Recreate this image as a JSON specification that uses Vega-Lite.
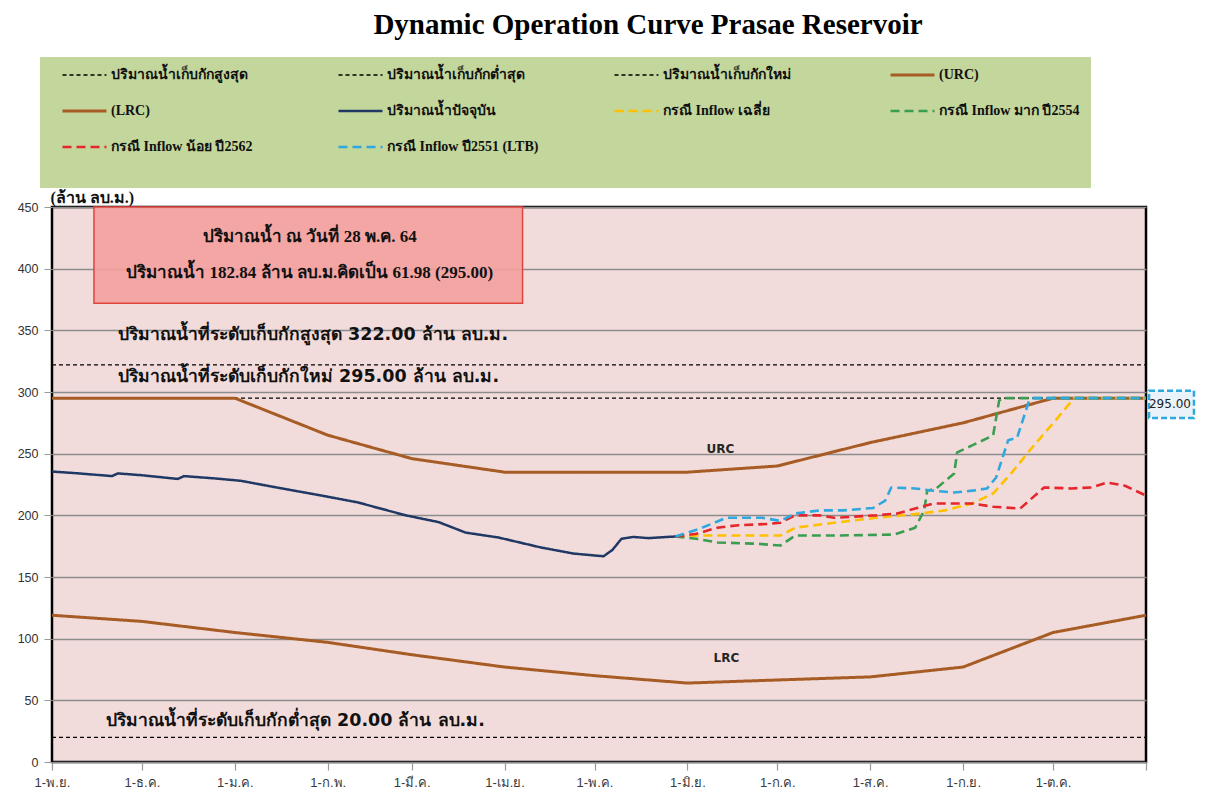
{
  "$schema": "https://vega.github.io/schema/vega-lite/v6.json",
  "width": 1094,
  "height": 555,
  "autosize": {"type": "none"},
  "padding": {"left": 52, "top": 207, "right": 71, "bottom": 34},
  "background": "white",
  "title": {
    "text": "Dynamic Operation Curve Prasae Reservoir",
    "font": "Liberation Serif",
    "fontSize": 29,
    "fontWeight": "bold",
    "color": "#000000",
    "anchor": "middle",
    "frame": "group",
    "dx": 49,
    "offset": 17
  },
  "config": {
    "view": {"fill": "#f2dcdb", "stroke": "#000000", "strokeWidth": 2.5}
  },
  "datasets": {
    "lines": [
      {"series": "ปริมาณน้ำเก็บกักสูงสุด", "date": "2020-11-01", "value": 322},
      {"series": "ปริมาณน้ำเก็บกักสูงสุด", "date": "2021-11-01", "value": 322},
      {"series": "ปริมาณน้ำเก็บกักต่ำสุด", "date": "2020-11-01", "value": 20},
      {"series": "ปริมาณน้ำเก็บกักต่ำสุด", "date": "2021-11-01", "value": 20},
      {"series": "ปริมาณน้ำเก็บกักใหม่", "date": "2020-11-01", "value": 295},
      {"series": "ปริมาณน้ำเก็บกักใหม่", "date": "2021-11-01", "value": 295},
      {"series": "(URC)", "date": "2020-11-01", "value": 295},
      {"series": "(URC)", "date": "2021-01-01", "value": 295},
      {"series": "(URC)", "date": "2021-02-01", "value": 265},
      {"series": "(URC)", "date": "2021-03-01", "value": 246},
      {"series": "(URC)", "date": "2021-04-01", "value": 235},
      {"series": "(URC)", "date": "2021-06-01", "value": 235},
      {"series": "(URC)", "date": "2021-07-01", "value": 240},
      {"series": "(URC)", "date": "2021-08-01", "value": 259},
      {"series": "(URC)", "date": "2021-09-01", "value": 275},
      {"series": "(URC)", "date": "2021-10-01", "value": 295},
      {"series": "(URC)", "date": "2021-11-01", "value": 295},
      {"series": "(LRC)", "date": "2020-11-01", "value": 119},
      {"series": "(LRC)", "date": "2020-12-01", "value": 114},
      {"series": "(LRC)", "date": "2021-01-01", "value": 105},
      {"series": "(LRC)", "date": "2021-02-01", "value": 97},
      {"series": "(LRC)", "date": "2021-03-01", "value": 87},
      {"series": "(LRC)", "date": "2021-04-01", "value": 77},
      {"series": "(LRC)", "date": "2021-05-01", "value": 70},
      {"series": "(LRC)", "date": "2021-06-01", "value": 64},
      {"series": "(LRC)", "date": "2021-07-01", "value": 66.5},
      {"series": "(LRC)", "date": "2021-08-01", "value": 69},
      {"series": "(LRC)", "date": "2021-09-01", "value": 77},
      {"series": "(LRC)", "date": "2021-10-01", "value": 105},
      {"series": "(LRC)", "date": "2021-11-01", "value": 119},
      {"series": "กรณี Inflow เฉลี่ย", "date": "2021-05-28", "value": 182.84},
      {"series": "กรณี Inflow เฉลี่ย", "date": "2021-06-04", "value": 183.6},
      {"series": "กรณี Inflow เฉลี่ย", "date": "2021-06-18", "value": 183.6},
      {"series": "กรณี Inflow เฉลี่ย", "date": "2021-07-02", "value": 183.6},
      {"series": "กรณี Inflow เฉลี่ย", "date": "2021-07-07", "value": 190},
      {"series": "กรณี Inflow เฉลี่ย", "date": "2021-07-20", "value": 194},
      {"series": "กรณี Inflow เฉลี่ย", "date": "2021-08-03", "value": 198},
      {"series": "กรณี Inflow เฉลี่ย", "date": "2021-08-16", "value": 201},
      {"series": "กรณี Inflow เฉลี่ย", "date": "2021-08-26", "value": 204},
      {"series": "กรณี Inflow เฉลี่ย", "date": "2021-09-04", "value": 209.6},
      {"series": "กรณี Inflow เฉลี่ย", "date": "2021-09-11", "value": 217.7},
      {"series": "กรณี Inflow เฉลี่ย", "date": "2021-09-17", "value": 234},
      {"series": "กรณี Inflow เฉลี่ย", "date": "2021-09-24", "value": 255},
      {"series": "กรณี Inflow เฉลี่ย", "date": "2021-10-01", "value": 274.6},
      {"series": "กรณี Inflow เฉลี่ย", "date": "2021-10-08", "value": 295},
      {"series": "กรณี Inflow เฉลี่ย", "date": "2021-11-01", "value": 295},
      {"series": "กรณี Inflow มาก ปี2554", "date": "2021-05-28", "value": 182.84},
      {"series": "กรณี Inflow มาก ปี2554", "date": "2021-06-04", "value": 181},
      {"series": "กรณี Inflow มาก ปี2554", "date": "2021-06-11", "value": 178},
      {"series": "กรณี Inflow มาก ปี2554", "date": "2021-06-24", "value": 177},
      {"series": "กรณี Inflow มาก ปี2554", "date": "2021-07-02", "value": 175.5},
      {"series": "กรณี Inflow มาก ปี2554", "date": "2021-07-07", "value": 183.6},
      {"series": "กรณี Inflow มาก ปี2554", "date": "2021-07-20", "value": 183.6},
      {"series": "กรณี Inflow มาก ปี2554", "date": "2021-08-09", "value": 184.4},
      {"series": "กรณี Inflow มาก ปี2554", "date": "2021-08-16", "value": 190},
      {"series": "กรณี Inflow มาก ปี2554", "date": "2021-08-19", "value": 204},
      {"series": "กรณี Inflow มาก ปี2554", "date": "2021-08-20", "value": 220},
      {"series": "กรณี Inflow มาก ปี2554", "date": "2021-08-23", "value": 221.8},
      {"series": "กรณี Inflow มาก ปี2554", "date": "2021-08-29", "value": 234},
      {"series": "กรณี Inflow มาก ปี2554", "date": "2021-08-30", "value": 251},
      {"series": "กรณี Inflow มาก ปี2554", "date": "2021-09-04", "value": 256.7},
      {"series": "กรณี Inflow มาก ปี2554", "date": "2021-09-11", "value": 264.8},
      {"series": "กรณี Inflow มาก ปี2554", "date": "2021-09-13", "value": 293},
      {"series": "กรณี Inflow มาก ปี2554", "date": "2021-09-14", "value": 295},
      {"series": "กรณี Inflow มาก ปี2554", "date": "2021-11-01", "value": 295},
      {"series": "กรณี Inflow น้อย ปี2562", "date": "2021-05-28", "value": 182.84},
      {"series": "กรณี Inflow น้อย ปี2562", "date": "2021-06-04", "value": 185},
      {"series": "กรณี Inflow น้อย ปี2562", "date": "2021-06-11", "value": 190},
      {"series": "กรณี Inflow น้อย ปี2562", "date": "2021-06-18", "value": 192},
      {"series": "กรณี Inflow น้อย ปี2562", "date": "2021-06-28", "value": 193},
      {"series": "กรณี Inflow น้อย ปี2562", "date": "2021-07-02", "value": 194},
      {"series": "กรณี Inflow น้อย ปี2562", "date": "2021-07-07", "value": 200},
      {"series": "กรณี Inflow น้อย ปี2562", "date": "2021-07-15", "value": 200},
      {"series": "กรณี Inflow น้อย ปี2562", "date": "2021-07-20", "value": 198},
      {"series": "กรณี Inflow น้อย ปี2562", "date": "2021-08-03", "value": 200},
      {"series": "กรณี Inflow น้อย ปี2562", "date": "2021-08-10", "value": 201.5},
      {"series": "กรณี Inflow น้อย ปี2562", "date": "2021-08-16", "value": 205.5},
      {"series": "กรณี Inflow น้อย ปี2562", "date": "2021-08-22", "value": 209.6},
      {"series": "กรณี Inflow น้อย ปี2562", "date": "2021-09-04", "value": 209.6},
      {"series": "กรณี Inflow น้อย ปี2562", "date": "2021-09-11", "value": 207},
      {"series": "กรณี Inflow น้อย ปี2562", "date": "2021-09-20", "value": 205.5},
      {"series": "กรณี Inflow น้อย ปี2562", "date": "2021-09-28", "value": 222.6},
      {"series": "กรณี Inflow น้อย ปี2562", "date": "2021-10-07", "value": 221.8},
      {"series": "กรณี Inflow น้อย ปี2562", "date": "2021-10-14", "value": 222.6},
      {"series": "กรณี Inflow น้อย ปี2562", "date": "2021-10-19", "value": 226.6},
      {"series": "กรณี Inflow น้อย ปี2562", "date": "2021-10-25", "value": 224},
      {"series": "กรณี Inflow น้อย ปี2562", "date": "2021-11-01", "value": 216},
      {"series": "กรณี Inflow ปี2551 (LTB)", "date": "2021-05-28", "value": 182.84},
      {"series": "กรณี Inflow ปี2551 (LTB)", "date": "2021-06-05", "value": 189},
      {"series": "กรณี Inflow ปี2551 (LTB)", "date": "2021-06-14", "value": 198},
      {"series": "กรณี Inflow ปี2551 (LTB)", "date": "2021-06-26", "value": 198},
      {"series": "กรณี Inflow ปี2551 (LTB)", "date": "2021-07-02", "value": 195.5},
      {"series": "กรณี Inflow ปี2551 (LTB)", "date": "2021-07-07", "value": 201.5},
      {"series": "กรณี Inflow ปี2551 (LTB)", "date": "2021-07-15", "value": 204},
      {"series": "กรณี Inflow ปี2551 (LTB)", "date": "2021-07-23", "value": 204},
      {"series": "กรณี Inflow ปี2551 (LTB)", "date": "2021-08-02", "value": 206},
      {"series": "กรณี Inflow ปี2551 (LTB)", "date": "2021-08-06", "value": 212},
      {"series": "กรณี Inflow ปี2551 (LTB)", "date": "2021-08-08", "value": 222.6},
      {"series": "กรณี Inflow ปี2551 (LTB)", "date": "2021-08-16", "value": 221.8},
      {"series": "กรณี Inflow ปี2551 (LTB)", "date": "2021-08-22", "value": 220},
      {"series": "กรณี Inflow ปี2551 (LTB)", "date": "2021-08-29", "value": 218.5},
      {"series": "กรณี Inflow ปี2551 (LTB)", "date": "2021-09-04", "value": 220},
      {"series": "กรณี Inflow ปี2551 (LTB)", "date": "2021-09-09", "value": 221.8},
      {"series": "กรณี Inflow ปี2551 (LTB)", "date": "2021-09-12", "value": 230.7},
      {"series": "กรณี Inflow ปี2551 (LTB)", "date": "2021-09-16", "value": 260.8},
      {"series": "กรณี Inflow ปี2551 (LTB)", "date": "2021-09-19", "value": 263},
      {"series": "กรณี Inflow ปี2551 (LTB)", "date": "2021-09-23", "value": 293},
      {"series": "กรณี Inflow ปี2551 (LTB)", "date": "2021-09-24", "value": 295},
      {"series": "กรณี Inflow ปี2551 (LTB)", "date": "2021-11-01", "value": 295},
      {"series": "ปริมาณน้ำปัจจุบัน", "date": "2020-11-01", "value": 235.5},
      {"series": "ปริมาณน้ำปัจจุบัน", "date": "2020-11-10", "value": 234},
      {"series": "ปริมาณน้ำปัจจุบัน", "date": "2020-11-21", "value": 231.8},
      {"series": "ปริมาณน้ำปัจจุบัน", "date": "2020-11-23", "value": 234},
      {"series": "ปริมาณน้ำปัจจุบัน", "date": "2020-12-01", "value": 232.5},
      {"series": "ปริมาณน้ำปัจจุบัน", "date": "2020-12-13", "value": 229.5},
      {"series": "ปริมาณน้ำปัจจุบัน", "date": "2020-12-15", "value": 231.8},
      {"series": "ปริมาณน้ำปัจจุบัน", "date": "2020-12-25", "value": 230},
      {"series": "ปริมาณน้ำปัจจุบัน", "date": "2021-01-03", "value": 228},
      {"series": "ปริมาณน้ำปัจจุบัน", "date": "2021-01-14", "value": 223},
      {"series": "ปริมาณน้ำปัจจุบัน", "date": "2021-01-30", "value": 216},
      {"series": "ปริมาณน้ำปัจจุบัน", "date": "2021-02-11", "value": 210.5},
      {"series": "ปริมาณน้ำปัจจุบัน", "date": "2021-02-27", "value": 200},
      {"series": "ปริมาณน้ำปัจจุบัน", "date": "2021-03-10", "value": 194.5},
      {"series": "ปริมาณน้ำปัจจุบัน", "date": "2021-03-19", "value": 186},
      {"series": "ปริมาณน้ำปัจจุบัน", "date": "2021-03-30", "value": 182},
      {"series": "ปริมาณน้ำปัจจุบัน", "date": "2021-04-13", "value": 174},
      {"series": "ปริมาณน้ำปัจจุบัน", "date": "2021-04-24", "value": 169},
      {"series": "ปริมาณน้ำปัจจุบัน", "date": "2021-05-04", "value": 166.8},
      {"series": "ปริมาณน้ำปัจจุบัน", "date": "2021-05-07", "value": 172},
      {"series": "ปริมาณน้ำปัจจุบัน", "date": "2021-05-10", "value": 181},
      {"series": "ปริมาณน้ำปัจจุบัน", "date": "2021-05-14", "value": 182.5},
      {"series": "ปริมาณน้ำปัจจุบัน", "date": "2021-05-19", "value": 181.5},
      {"series": "ปริมาณน้ำปัจจุบัน", "date": "2021-05-24", "value": 182.3},
      {"series": "ปริมาณน้ำปัจจุบัน", "date": "2021-05-28", "value": 182.84}
    ],
    "boxes": [
      {"kind": "info", "date": "2020-11-15", "date2": "2021-04-07", "value": 372, "value2": 450},
      {"kind": "tag", "date": "2021-11-02", "date2": "2021-11-17", "value": 279, "value2": 301}
    ],
    "boxtext": [
      {"date": "2021-01-26", "value": 425.5, "label": "ปริมาณน้ำ ณ วันที่ 28 พ.ค. 64"},
      {"date": "2021-01-26", "value": 396.5, "label": "ปริมาณน้ำ 182.84 ล้าน ลบ.ม.คิดเป็น 61.98 (295.00)"}
    ],
    "leveltext": [
      {"date": "2020-11-23", "value": 346, "label": "ปริมาณน้ำที่ระดับเก็บกักสูงสุด 322.00 ล้าน ลบ.ม."},
      {"date": "2020-11-23", "value": 312, "label": "ปริมาณน้ำที่ระดับเก็บกักใหม่ 295.00  ล้าน ลบ.ม."},
      {"date": "2020-11-19", "value": 33, "label": "ปริมาณน้ำที่ระดับเก็บกักต่ำสุด 20.00 ล้าน ลบ.ม."}
    ],
    "curvetext": [
      {"date": "2021-06-12", "value": 254, "label": "URC"},
      {"date": "2021-06-14", "value": 84, "label": "LRC"}
    ],
    "tagtext": [
      {"date": "2021-11-09", "value": 290, "label": "295.00"}
    ]
  },
  "layer": [
    {
      "data": {"name": "boxes"},
      "transform": [{"filter": "datum.kind == 'info'"}],
      "mark": {"type": "rect", "fill": "#f4a09d", "fillOpacity": 0.9, "stroke": "#e0453d", "strokeWidth": 1.5},
      "encoding": {
        "x": {"field": "date", "type": "temporal"},
        "x2": {"field": "date2"},
        "y": {"field": "value", "type": "quantitative"},
        "y2": {"field": "value2"}
      }
    },
    {
      "data": {"name": "lines"},
      "mark": {"type": "line", "strokeCap": "butt", "strokeJoin": "round"},
      "encoding": {
        "x": {
          "field": "date",
          "type": "temporal",
          "scale": {
            "type": "utc",
            "domain": [
              {"year": 2020, "month": 11, "date": 1, "utc": true},
              {"year": 2021, "month": 11, "date": 1, "utc": true}
            ]
          },
          "axis": {
            "title": null,
            "domain": false,
            "grid": false,
            "values": [
              {"year": 2020, "month": 11, "date": 1, "utc": true},
              {"year": 2020, "month": 12, "date": 1, "utc": true},
              {"year": 2021, "month": 1, "date": 1, "utc": true},
              {"year": 2021, "month": 2, "date": 1, "utc": true},
              {"year": 2021, "month": 3, "date": 1, "utc": true},
              {"year": 2021, "month": 4, "date": 1, "utc": true},
              {"year": 2021, "month": 5, "date": 1, "utc": true},
              {"year": 2021, "month": 6, "date": 1, "utc": true},
              {"year": 2021, "month": 7, "date": 1, "utc": true},
              {"year": 2021, "month": 8, "date": 1, "utc": true},
              {"year": 2021, "month": 9, "date": 1, "utc": true},
              {"year": 2021, "month": 10, "date": 1, "utc": true},
              {"year": 2021, "month": 11, "date": 1, "utc": true}
            ],
            "labelExpr": "(utcyear(datum.value) == 2021 && utcmonth(datum.value) == 10) ? '' : '1-' + ['ม.ค.','ก.พ.','มี.ค.','เม.ย.','พ.ค.','มิ.ย.','ก.ค.','ส.ค.','ก.ย.','ต.ค.','พ.ย.','ธ.ค.'][utcmonth(datum.value)]",
            "labelFlush": false,
            "labelOverlap": false,
            "labelFont": "Liberation Sans",
            "labelFontSize": 13,
            "labelColor": "#3a3a3a",
            "labelPadding": 6,
            "ticks": true,
            "tickSize": 8,
            "tickColor": "#999999",
            "tickWidth": 1.2
          }
        },
        "y": {
          "field": "value",
          "type": "quantitative",
          "scale": {"domain": [0, 450], "nice": false, "zero": true},
          "axis": {
            "values": [0, 50, 100, 150, 200, 250, 300, 350, 400, 450],
            "domain": false,
            "grid": true,
            "gridColor": "#8c8c8c",
            "gridWidth": 1.4,
            "ticks": true,
            "tickSize": 8,
            "tickColor": "#999999",
            "labelFont": "Liberation Sans",
            "labelFontSize": 12.5,
            "labelColor": "#333333",
            "labelPadding": 6,
            "title": "(ล้าน ลบ.ม.)",
            "titleAngle": 0,
            "titleAlign": "left",
            "titleBaseline": "middle",
            "titleX": -2,
            "titleY": -10,
            "titleFont": "Liberation Serif",
            "titleFontSize": 16,
            "titleFontWeight": "bold",
            "titleColor": "#111111"
          }
        },
        "color": {
          "field": "series",
          "type": "nominal",
          "scale": {
            "domain": ["ปริมาณน้ำเก็บกักสูงสุด", "ปริมาณน้ำเก็บกักต่ำสุด", "ปริมาณน้ำเก็บกักใหม่", "(URC)", "(LRC)", "ปริมาณน้ำปัจจุบัน", "กรณี Inflow เฉลี่ย", "กรณี Inflow มาก ปี2554", "กรณี Inflow น้อย ปี2562", "กรณี Inflow ปี2551 (LTB)"],
            "range": ["#000000", "#000000", "#000000", "#a65c24", "#a65c24", "#203864", "#ffc000", "#3a9e50", "#e5262b", "#2fa8df"]
          },
          "legend": {
            "orient": "none",
            "legendX": -12,
            "legendY": -150,
            "direction": "horizontal",
            "columns": 4,
            "gridAlign": "all",
            "columnPadding": 63,
            "rowPadding": 20,
            "padding": 10,
            "fillColor": "#c3d69b",
            "strokeColor": "#c3d69b",
            "title": " ",
            "titleOrient": "bottom",
            "titleFontSize": 10,
            "titlePadding": 12,
            "symbolType": "stroke",
            "symbolSize": 1936,
            "symbolOffset": 11,
            "clipHeight": 16,
            "labelFont": "Liberation Serif",
            "labelFontSize": 14,
            "labelFontWeight": "bold",
            "labelColor": "#111111",
            "labelOffset": 3,
            "labelLimit": 320
          }
        },
        "strokeDash": {
          "field": "series",
          "type": "nominal",
          "scale": {
            "domain": ["ปริมาณน้ำเก็บกักสูงสุด", "ปริมาณน้ำเก็บกักต่ำสุด", "ปริมาณน้ำเก็บกักใหม่", "(URC)", "(LRC)", "ปริมาณน้ำปัจจุบัน", "กรณี Inflow เฉลี่ย", "กรณี Inflow มาก ปี2554", "กรณี Inflow น้อย ปี2562", "กรณี Inflow ปี2551 (LTB)"],
            "range": [[4, 3], [4, 3], [4, 3], [1, 0], [1, 0], [1, 0], [9, 5], [9, 5], [9, 5], [9, 5]]
          }
        },
        "strokeWidth": {
          "field": "series",
          "type": "nominal",
          "scale": {
            "type": "ordinal",
            "domain": ["ปริมาณน้ำเก็บกักสูงสุด", "ปริมาณน้ำเก็บกักต่ำสุด", "ปริมาณน้ำเก็บกักใหม่", "(URC)", "(LRC)", "ปริมาณน้ำปัจจุบัน", "กรณี Inflow เฉลี่ย", "กรณี Inflow มาก ปี2554", "กรณี Inflow น้อย ปี2562", "กรณี Inflow ปี2551 (LTB)"],
            "range": [1.3, 1.3, 1.3, 3, 3, 2.5, 2.6, 2.6, 2.6, 2.6]
          }
        }
      }
    },
    {
      "data": {"name": "boxes"},
      "transform": [{"filter": "datum.kind == 'tag'"}],
      "mark": {"type": "rect", "fill": "#e9f3f8", "stroke": "#2fa8df", "strokeWidth": 2.5, "strokeDash": [6, 3], "clip": false},
      "encoding": {
        "x": {"field": "date", "type": "temporal"},
        "x2": {"field": "date2"},
        "y": {"field": "value", "type": "quantitative"},
        "y2": {"field": "value2"}
      }
    },
    {
      "data": {"name": "boxtext"},
      "mark": {"type": "text", "font": "Liberation Serif", "fontSize": 17, "fontWeight": "bold", "color": "#111111", "align": "center", "baseline": "middle"},
      "encoding": {
        "x": {"field": "date", "type": "temporal"},
        "y": {"field": "value", "type": "quantitative"},
        "text": {"field": "label"}
      }
    },
    {
      "data": {"name": "leveltext"},
      "mark": {"type": "text", "font": "DejaVu Sans", "fontSize": 17.5, "fontWeight": "bold", "color": "#111111", "align": "left", "baseline": "middle"},
      "encoding": {
        "x": {"field": "date", "type": "temporal"},
        "y": {"field": "value", "type": "quantitative"},
        "text": {"field": "label"}
      }
    },
    {
      "data": {"name": "curvetext"},
      "mark": {"type": "text", "font": "DejaVu Sans", "fontSize": 12, "fontWeight": "bold", "color": "#262626", "align": "center", "baseline": "middle"},
      "encoding": {
        "x": {"field": "date", "type": "temporal"},
        "y": {"field": "value", "type": "quantitative"},
        "text": {"field": "label"}
      }
    },
    {
      "data": {"name": "tagtext"},
      "mark": {"type": "text", "font": "DejaVu Sans", "fontSize": 12, "color": "#222222", "align": "center", "baseline": "middle", "clip": false},
      "encoding": {
        "x": {"field": "date", "type": "temporal"},
        "y": {"field": "value", "type": "quantitative"},
        "text": {"field": "label"}
      }
    }
  ]
}
